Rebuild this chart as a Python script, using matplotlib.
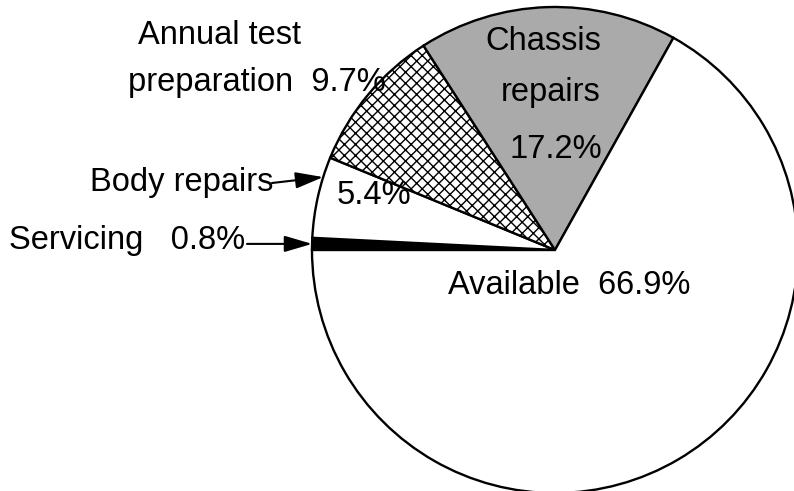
import matplotlib

matplotlib.use("Agg")

import matplotlib.pyplot as plt
import numpy as np

# 数据 (顺时针，从 9 点钟方向开始)
categories = ["Servicing", "Body repairs", "Annual test preparation", "Chassis repairs", "Available"]
shares = [0.8, 5.4, 9.7, 17.2, 66.9]

# 图幅 794x491 px, 饼心像素位置与半径
W, H, DPI = 794, 491, 100
CX, CY, R = 555, 250, 243


def px(x, y):
    """像素坐标 -> 数据坐标 (饼半径 = 1)。"""
    return (x - CX) / R, (CY - y) / R


plt.rcParams["font.family"] = ["Liberation Sans", "DejaVu Sans"]
plt.rcParams["hatch.linewidth"] = 1.0

fig = plt.figure(figsize=(W / DPI, H / DPI), dpi=DPI)
ax = fig.add_axes([0, 0, 1, 1])

wedges, _ = ax.pie(
    shares,
    startangle=180,
    counterclock=False,
    radius=1.0,
    colors=["black", "white", "white", "#aaaaaa", "white"],
    wedgeprops=dict(edgecolor="black", linewidth=1.7),
)
wedges[2].set_hatch("xxx")

ax.set_aspect("auto")
x0, y0 = px(0, H)
x1, y1 = px(W, 0)
ax.set_xlim(x0, x1)
ax.set_ylim(y0, y1)
ax.axis("off")

fs = 23.5

# 饼内标签
ax.text(*px(543, 42), "Chassis", ha="center", va="center", fontsize=fs)
ax.text(*px(551, 92), "repairs", ha="center", va="center", fontsize=fs)
ax.text(*px(556, 150), "17.2%", ha="center", va="center", fontsize=fs)
ax.text(*px(374, 195), "5.4%", ha="center", va="center", fontsize=fs)
ax.text(*px(569, 285), "Available  66.9%", ha="center", va="center", fontsize=fs)

# 饼外标签
ax.text(*px(220, 35), "Annual test", ha="center", va="center", fontsize=fs)
ax.text(*px(128, 82), "preparation  9.7%", ha="left", va="center", fontsize=fs)
ax.text(*px(273, 182), "Body repairs", ha="right", va="center", fontsize=fs)
ax.text(*px(9, 240), "Servicing   0.8%", ha="left", va="center", fontsize=fs)

# 箭头: 指向各自扇区的外缘
arrow_kw = dict(arrowstyle="-|>,head_length=1.7,head_width=0.5", color="black", lw=1.5,
                shrinkA=0, shrinkB=0)
t1, t2 = wedges[1].theta1, wedges[1].theta2
ang = np.deg2rad(t1 + 0.25 * (t2 - t1))
ax.annotate("", xy=(np.cos(ang), np.sin(ang)), xytext=px(272, 183), arrowprops=arrow_kw)

t1, t2 = wedges[0].theta1, wedges[0].theta2
ang = np.deg2rad((t1 + t2) / 2)
tip = (np.cos(ang), np.sin(ang))
ax.annotate("", xy=tip, xytext=(px(247, 0)[0], tip[1]), arrowprops=arrow_kw)

fig.savefig("out.png", dpi=DPI)
